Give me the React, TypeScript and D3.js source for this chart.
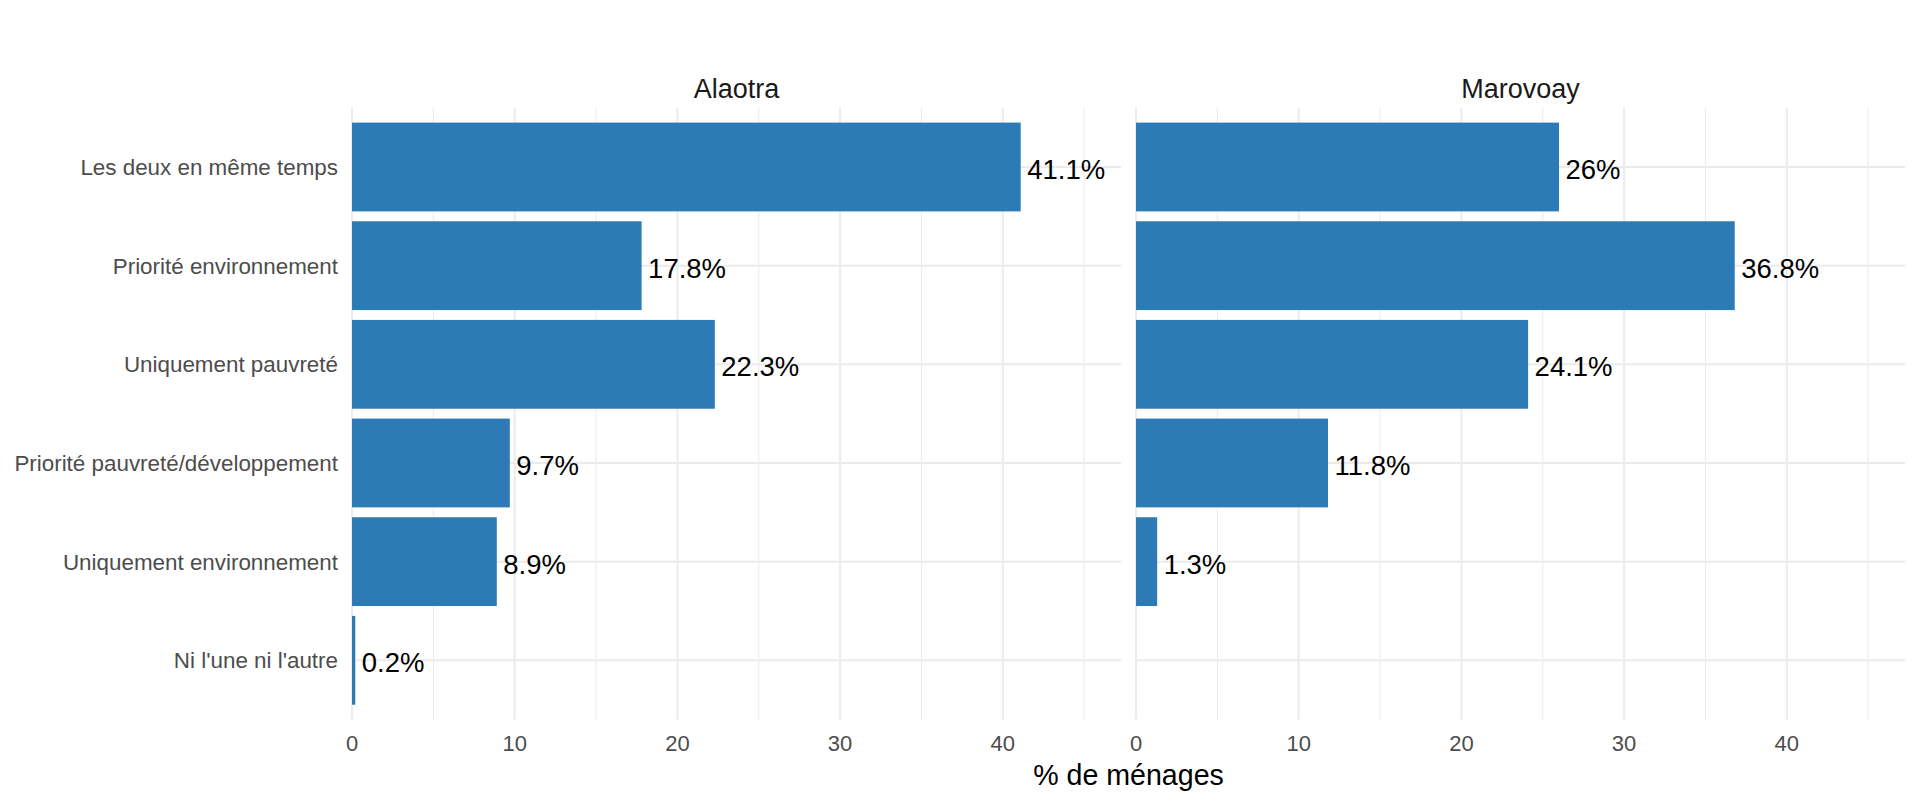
import React from "react";
import * as d3 from "d3";

const categories = [
  "Les deux en même temps",
  "Priorité environnement",
  "Uniquement pauvreté",
  "Priorité pauvreté/développement",
  "Uniquement environnement",
  "Ni l'une ni l'autre",
];
const facets = ["Alaotra", "Marovoay"];
const alaotraValues: (number | null)[] = [41.1, 17.8, 22.3, 9.7, 8.9, 0.2];
const marovoayValues: (number | null)[] = [26, 36.8, 24.1, 11.8, 1.3, null];
const valueLabelsAlaotra = ["41.1%", "17.8%", "22.3%", "9.7%", "8.9%", "0.2%"];
const valueLabelsMarovoay = ["26%", "36.8%", "24.1%", "11.8%", "1.3%", ""];
const majorTicks = [0, 10, 20, 30, 40];
const minorTicks = [5, 15, 25, 35, 45];
const xMax = 41.1 * 1.15;
const xTitle = "% de ménages";

const W = 1920;
const H = 806;
const panelTop = 107.8;
const panelBottom = 719.5;
const panels = [
  { x0: 352, x1: 1121 },
  { x0: 1136, x1: 1905 },
];
const BAR = "#2C7BB6";
const GRID = "#EBEBEB";
const FONT = "'Liberation Sans', Arial, sans-serif";

export default function App() {
  const y = d3
    .scalePoint<string>()
    .domain(categories)
    .range([panelTop, panelBottom])
    .padding(0.6);
  const step = y.step();
  const barH = step * 0.9;
  const data = [
    { name: facets[0], values: alaotraValues, labels: valueLabelsAlaotra },
    { name: facets[1], values: marovoayValues, labels: valueLabelsMarovoay },
  ];

  return (
    <svg
      width={W}
      height={H}
      style={{ position: "fixed", left: 0, top: 0, background: "#fff" }}
      fontFamily={FONT}
    >
      <rect width={W} height={H} fill="#fff" />
      {data.map((f, pi) => {
        const p = panels[pi];
        const x = d3.scaleLinear().domain([0, xMax]).range([p.x0, p.x1]);
        return (
          <g key={f.name}>
            {minorTicks.map((t) => (
              <line
                key={"mi" + t}
                x1={x(t)}
                x2={x(t)}
                y1={panelTop}
                y2={panelBottom}
                stroke={GRID}
                strokeWidth={1}
              />
            ))}
            {majorTicks.map((t) => (
              <line
                key={"ma" + t}
                x1={x(t)}
                x2={x(t)}
                y1={panelTop}
                y2={panelBottom}
                stroke={GRID}
                strokeWidth={2}
              />
            ))}
            {categories.map((c) => (
              <line
                key={"h" + c}
                x1={p.x0}
                x2={p.x1}
                y1={y(c)}
                y2={y(c)}
                stroke={GRID}
                strokeWidth={2}
              />
            ))}
            {categories.map((c, i) => {
              const v = f.values[i];
              if (v == null) return null;
              return (
                <rect
                  key={"b" + c}
                  x={x(0)}
                  y={(y(c) as number) - barH / 2}
                  width={x(v) - x(0)}
                  height={barH}
                  fill={BAR}
                />
              );
            })}
            {categories.map((c, i) => {
              const v = f.values[i];
              if (v == null) return null;
              return (
                <text
                  key={"l" + c}
                  x={x(v) + 6.5}
                  y={(y(c) as number) + 2}
                  dy="0.36em"
                  fontSize={27.5}
                  fill="#000"
                >
                  {f.labels[i]}
                </text>
              );
            })}
            <text
              x={(p.x0 + p.x1) / 2}
              y={88}
              dy="0.36em"
              textAnchor="middle"
              fontSize={27}
              fill="#1a1a1a"
            >
              {f.name}
            </text>
            {majorTicks.map((t) => (
              <text
                key={"t" + t}
                x={x(t)}
                y={743}
                dy="0.36em"
                textAnchor="middle"
                fontSize={22}
                fill="#4d4d4d"
              >
                {t}
              </text>
            ))}
          </g>
        );
      })}
      {categories.map((c) => (
        <text
          key={"y" + c}
          x={338}
          y={y(c)}
          dy="0.36em"
          textAnchor="end"
          fontSize={22.4}
          fill="#4d4d4d"
        >
          {c}
        </text>
      ))}
      <text
        x={(panels[0].x0 + panels[1].x1) / 2}
        y={775}
        dy="0.36em"
        textAnchor="middle"
        fontSize={28.6}
        fill="#000"
      >
        {xTitle}
      </text>
    </svg>
  );
}
